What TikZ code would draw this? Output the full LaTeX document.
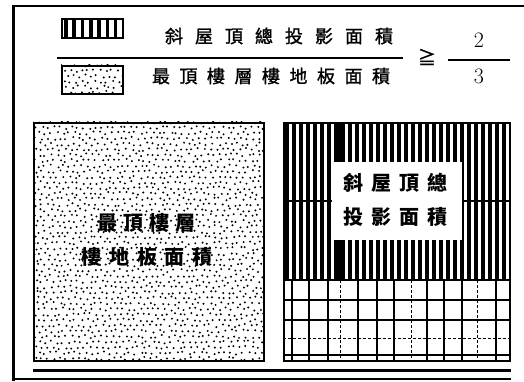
\documentclass[tikz,border=0pt]{standalone}
\usepackage{fontspec}
\newfontfamily\cjk{Noto Sans CJK TC}
\newfontfamily\cjkm{Noto Sans CJK TC}[FakeBold=1.3]
\tikzset{
  boxline/.style={line width=2pt},
  gridsolid/.style={line width=1.6pt},
  griddash/.style={line width=0.8pt, dash pattern=on 3pt off 2pt},
  legendtext/.style={inner sep=0pt, font=\cjkm\fontsize{18}{18}\selectfont},
  boxtext/.style={inner sep=0pt, font=\cjk\bfseries\fontsize{20}{20}\selectfont},
  digit/.style={inner sep=0pt, font=\fontsize{22}{22}\selectfont},
  dotmark/.style={fill=black}
}
\newcommand\randdots[4]{% x1 y1 x2 y2
  \begin{scope}
    \clip (#1,#2) rectangle (#3,#4);
    \pgfmathtruncatemacro\nx{(#3-#1)/6+1}
    \pgfmathtruncatemacro\ny{(#4-#2)/5.5+1}
    \foreach \i in {0,...,\nx}{
      \foreach \j in {0,...,\ny}{
        \fill[dotmark] ({#1+\i*6+mod(\j,2)*3+rand*1.6},{#2+\j*5.5+rand*1.6}) circle (1.1pt);
      }
    }
  \end{scope}}
\begin{document}
\begin{tikzpicture}[x=1pt,y=-1pt]
\useasboundingbox (0,0) rectangle (524,382);
\pgfmathsetseed{4242}
% outer frame
\draw[line width=3pt] (13,5) -- (13,381);
\draw[line width=2.5pt] (12,6) -- (524,6);
% legend: hatched
\foreach \i in {0,...,6} \fill (64+\i*8.3,18) rectangle ++(3.6,19);
\node[draw, boxline, inner sep=0pt, minimum width=61pt, minimum height=19pt, anchor=north west] (hatchkey) at (61,18) {};
% legend: dotted
\randdots{61}{65}{122}{93}
\node[draw, boxline, inner sep=0pt, minimum width=61pt, minimum height=28pt, anchor=north west] (dotkey) at (61,65) {};
% fraction
\node[legendtext] (numtext) at (279,36) {\makebox[228pt]{斜\hfill 屋\hfill 頂\hfill 總\hfill 投\hfill 影\hfill 面\hfill 積}};
\node[legendtext] (dentext) at (271,76) {\makebox[238pt]{最\hfill 頂\hfill 樓\hfill 層\hfill 樓\hfill 地\hfill 板\hfill 面\hfill 積}};
\coordinate (fracL) at (57,58);
\coordinate (fracR) at (403,58);
\draw[line width=1.8pt] (fracL) -- (fracR);
\node[inner sep=0pt, font=\cjkm\fontsize{18}{18}\selectfont] (geq) at (427,57) {≧};
\node[digit] (two) at (479,40) {2};
\node[digit] (three) at (479,76) {3};
\coordinate (nfracL) at (448,60);
\coordinate (nfracR) at (510,60);
\draw[line width=1.5pt] (nfracL) -- (nfracR);
% left big box
\randdots{33}{122}{263}{360}
\node[draw, boxline, inner sep=0pt, minimum width=230pt, minimum height=238pt, anchor=north west] (leftbox) at (33,122) {};
\node[boxtext] (lefttop) at (146,223) {\makebox[98pt]{最\hfill 頂\hfill 樓\hfill 層}};
\node[boxtext] (leftbot) at (147,257) {\makebox[131pt]{樓\hfill 地\hfill 板\hfill 面\hfill 積}};
% right big box: stripes
\foreach \i in {0,...,31} \fill (285+\i*7,122) rectangle ++(4,158);
\draw[line width=2pt] (283,201) -- (332,201);
\draw[line width=2pt] (462,201) -- (509,201);
\fill[white] (332,162) rectangle (462,240);
\fill (335,122) rectangle (342,162);
\fill (335,240) rectangle (342,280);
\node[boxtext] (righttop) at (395,183) {\makebox[104pt]{斜\hfill 屋\hfill 頂\hfill 總}};
\node[boxtext] (rightbot) at (395,217) {\makebox[104pt]{投\hfill 影\hfill 面\hfill 積}};
% grid
\draw[line width=2.4pt] (283,280) -- (509,280);
\foreach \yy in {300,320,355} \draw[gridsolid] (283,\yy) -- (509,\yy);
\draw[griddash] (283,338) -- (509,338);
\foreach \xx in {292,309,328,358,377,394,427,444,462,496} \draw[gridsolid] (\xx,280) -- (\xx,360);
\foreach \xx in {340,411,477} \draw[griddash] (\xx,280) -- (\xx,360);
\node[draw, boxline, inner sep=0pt, minimum width=226pt, minimum height=238pt, anchor=north west] (rightbox) at (283,122) {};
% bottom lines
\draw[line width=3pt] (33,370) -- (511,370);
\draw[line width=2pt] (12,379) -- (511,379);
\end{tikzpicture}
\end{document}
